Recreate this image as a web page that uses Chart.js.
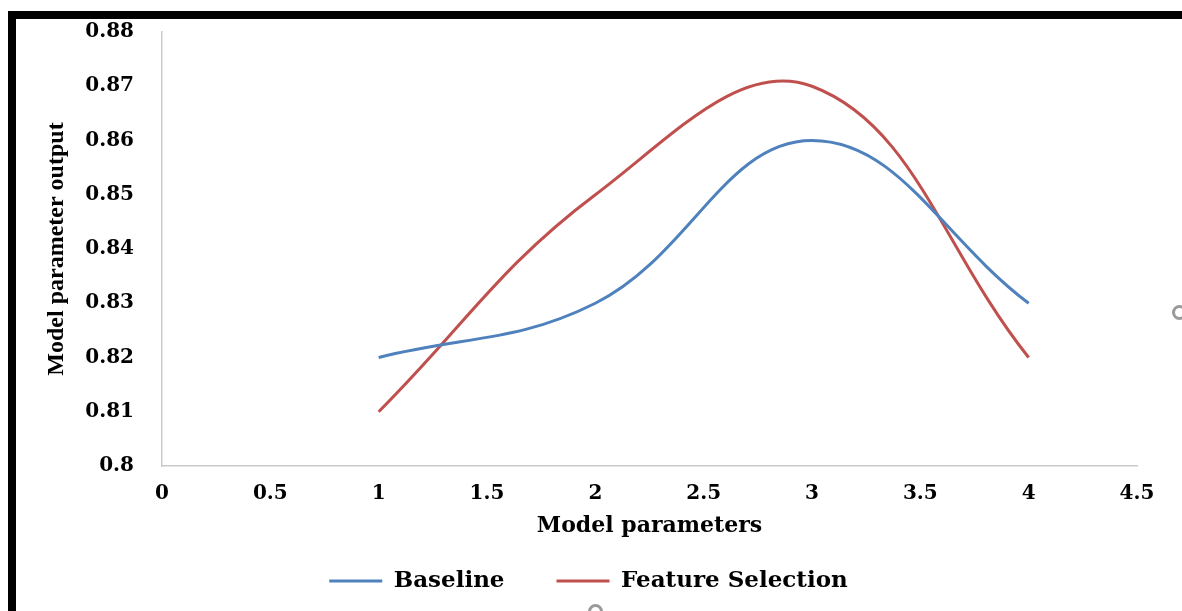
<!DOCTYPE html>
<html>
<head>
<meta charset="utf-8">
<title>Model parameter output</title>
<script src="https://cdn.jsdelivr.net/npm/chart.js@4.4.1/dist/chart.umd.min.js"></script>
<style>
    html, body { margin: 0; padding: 0; background: #ffffff; overflow: hidden; }
    #frame {
        position: absolute; left: 8px; top: 11px; width: 1180px; height: 610px;
        border-top: 8px solid #000; border-left: 8px solid #000;
    }
    .handle {
        position: absolute; width: 9px; height: 9px; border-radius: 50%;
        border: 3px solid #9a9a9a; background: #fff;
    }
    #chart { position: absolute; left: 0; top: 0; }
</style>
</head>
<body>
<div id="frame"></div>
<div class="handle" style="left:1172px; top:305px;"></div>
<div class="handle" style="left:588px; top:604px;"></div>
<canvas id="chart" width="1182" height="611"></canvas>
<script>
    "use strict";

    let xValues = [1, 2, 3, 4];
    let baseline = [0.82, 0.83, 0.86, 0.83];
    let featureSelection = [0.81, 0.85, 0.87, 0.82];
    let xTicks = [0, 0.5, 1, 1.5, 2, 2.5, 3, 3.5, 4, 4.5];
    let yTicks = [0.8, 0.81, 0.82, 0.83, 0.84, 0.85, 0.86, 0.87, 0.88];

    let toPoints = function (values) {
        return values.map(function (v, i) {
            return { x: xValues[i], y: v };
        });
    };

    let tickFont = { family: "'DejaVu Serif'", size: 20, weight: "bold" };

    let chartData = {
        datasets: [{
            label: "Baseline",
            data: toPoints(baseline),
            borderColor: "#4F81BD",
            backgroundColor: "#4F81BD",
            borderWidth: 3,
            pointRadius: 0,
            tension: 0.4
        }, {
            label: "Feature Selection",
            data: toPoints(featureSelection),
            borderColor: "#C0504D",
            backgroundColor: "#C0504D",
            borderWidth: 3,
            pointRadius: 0,
            tension: 0.4
        }]
    };

    let chartOptions = {
        responsive: false,
        animation: false,
        layout: { padding: { left: 40, right: 45, top: 32, bottom: 8.5 } },
        scales: {
            x: {
                type: "linear",
                min: 0,
                max: 4.5,
                afterBuildTicks: function (scale) {
                    scale.ticks = xTicks.map(function (v) { return { value: v }; });
                },
                afterFit: function (scale) { scale.height = 51.5; },
                grid: { display: false, drawTicks: false },
                border: { display: true, color: "#c9c9c9", width: 1.5 },
                ticks: {
                    color: "#000",
                    font: tickFont,
                    padding: 16,
                    maxRotation: 0,
                    autoSkip: false,
                    callback: function (v) { return String(v); }
                },
                title: {
                    display: true,
                    text: "Model parameters",
                    color: "#000",
                    font: { family: "'DejaVu Serif'", size: 22, weight: "bold" },
                    padding: { top: 0, bottom: -21.7 }
                }
            },
            y: {
                min: 0.8,
                max: 0.88,
                afterBuildTicks: function (scale) {
                    scale.ticks = yTicks.map(function (v) { return { value: v }; });
                },
                afterFit: function (scale) {
                    // tick padding is meant for the side gap only
                    scale.width = 122;
                    scale.paddingTop = 12;
                    scale.paddingBottom = 12;
                },
                grid: { display: false, drawTicks: false },
                border: { display: true, color: "#c9c9c9", width: 1.5 },
                ticks: {
                    color: "#000",
                    font: tickFont,
                    padding: 28,
                    autoSkip: false,
                    callback: function (v) { return String(v); }
                },
                title: {
                    display: true,
                    text: "Model parameter output",
                    color: "#000",
                    font: { family: "'Liberation Serif'", size: 24, weight: "bold" },
                    padding: { top: 2, bottom: 0 }
                }
            }
        },
        plugins: {
            legend: {
                position: "bottom",
                labels: {
                    usePointStyle: true,
                    pointStyle: "line",
                    pointStyleWidth: 53,
                    padding: 52,
                    color: "#000",
                    font: { family: "'DejaVu Serif'", size: 23, weight: "bold" }
                }
            },
            tooltip: { enabled: false }
        }
    };

    let ctx = document.getElementById("chart").getContext("2d");
    let chart = new Chart(ctx, {
        type: "line",
        data: chartData,
        options: chartOptions
    });
</script>
</body>
</html>
